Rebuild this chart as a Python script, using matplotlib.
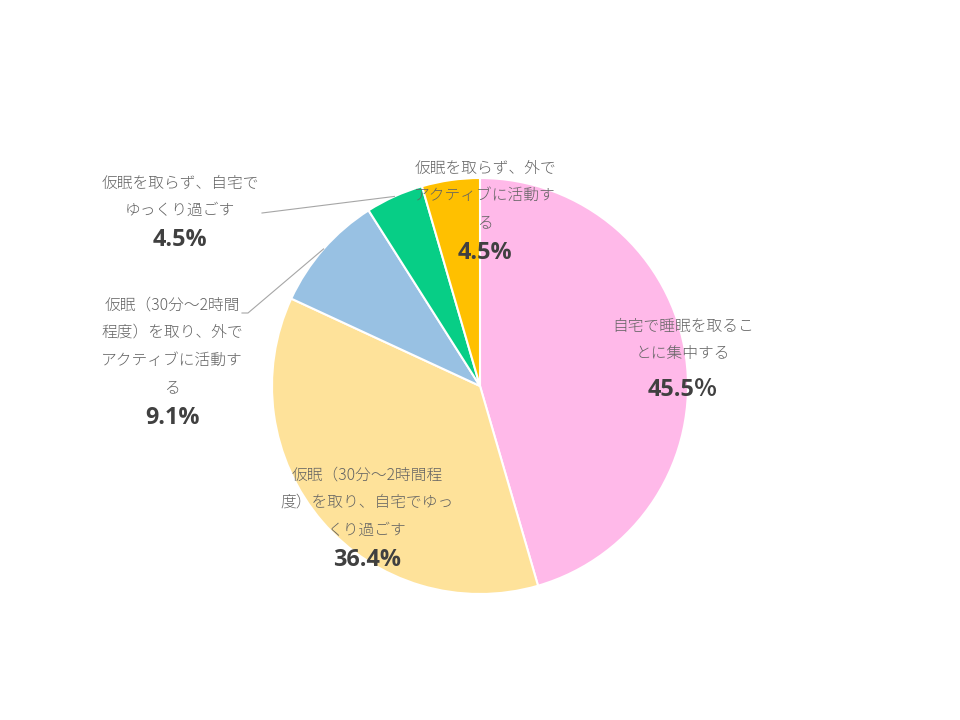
import numpy as np
import matplotlib.pyplot as plt

# Data
labels = ['自宅で睡眠を取るこ\nとに集中する',
          '仮眠（30分～2時間程\n度）を取り、自宅でゆっ\nくり過ごす',
          '仮眠（30分～2時間\n程度）を取り、外で\nアクティブに活動す\nる',
          '仮眠を取らず、自宅で\nゆっくり過ごす',
          '仮眠を取らず、外で\nアクティブに活動す\nる']
values = [45.5, 36.4, 9.1, 4.5, 4.5]
pct_text = ['45.5％', '36.4%', '9.1%', '4.5%', '4.5%']
colors = ['#FFB9E9', '#FEE29A', '#98C1E3', '#07CE86', '#FFC000']

# Layout (pixel units, y measured from top of the picture)
W, H = 960, 720
cx, cy, R = 480, 386, 208
# text block centre x, first line y, percent y
label_pos = [(683, 326, 390), (367, 475, 560), (172, 305, 418),
             (180, 183, 240), (485, 168, 253)]
line_step = 27.5

fig = plt.figure(figsize=(9.6, 7.2), dpi=100)
ax = fig.add_axes([0, 0, 1, 1])

wedges, _ = ax.pie(values, colors=colors, startangle=90, counterclock=False,
                   center=(cx, H - cy), radius=R,
                   wedgeprops=dict(edgecolor='white', linewidth=1.5))
ax.set_xlim(0, W)
ax.set_ylim(0, H)
ax.set_aspect('equal')
ax.axis('off')

cat_font = ['Noto Sans CJK JP', 'DejaVu Sans']
pct_font = ['Open Sans', 'Noto Sans CJK JP', 'DejaVu Sans']

for i in range(len(values)):
    x, y0, yp = label_pos[i]
    for j, line in enumerate(labels[i].split('\n')):
        ax.text(x, H - (y0 + j * line_step), line, ha='center', va='center',
                fontsize=11.3, color='#636363', family=cat_font,
                fontweight='light')
    ax.text(x, H - yp, pct_text[i], ha='center', va='center',
            fontsize=16.8, fontweight='bold', color='#404040', family=pct_font)

# Leader lines for the two small slices on the left
def edge_point(w):
    mid = np.deg2rad((w.theta1 + w.theta2) / 2)
    return cx + R * np.cos(mid), H - cy + R * np.sin(mid)

ex, ey = edge_point(wedges[3])
ax.plot([262, ex], [H - 213, ey], color='#A6A6A6', lw=0.8)
ex, ey = edge_point(wedges[2])
ax.plot([242, 248, ex], [H - 313, H - 313, ey], color='#A6A6A6', lw=0.8)

fig.savefig('out.png', dpi=100, facecolor='white')
